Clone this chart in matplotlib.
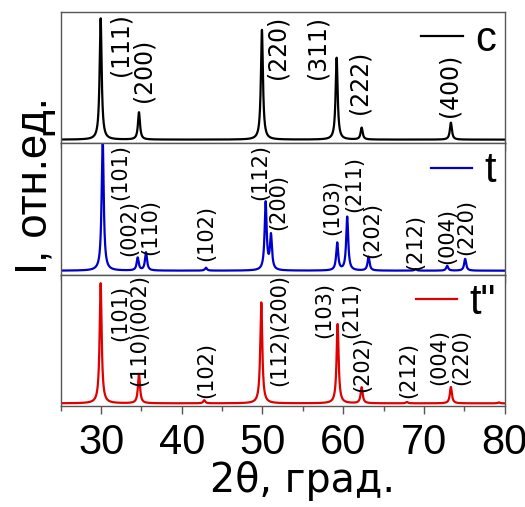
import matplotlib
matplotlib.use("Agg")
import matplotlib.pyplot as plt
import numpy as np

plt.rcParams['font.family'] = ['Liberation Sans', 'DejaVu Sans']

# peak positions (2theta, deg) and heights (relative) for each phase
c_pos = [29.94, 34.69, 49.93, 59.19, 62.29, 73.35]
c_int = [100, 22.5, 90.5, 67.5, 9.8, 14.0]
c_hkl = ['(111)', '(200)', '(220)', '(311)', '(222)', '(400)']
c_lab_x = [32.42, 35.31, 51.91, 56.87, 62.08, 73.23]
c_lab_y = [0.747, 0.556, 0.731, 0.731, 0.465, 0.442]

t_pos = [30.19, 34.53, 35.56, 42.99, 50.39, 51.05, 59.26, 60.50, 63.15, 68.98, 72.89, 75.12]
t_int = [100, 9.5, 13.5, 2.2, 50.5, 25.5, 20.5, 40.0, 10.3, 1.1, 3.6, 8.8]
t_hkl = ['(101)', '(002)', '(110)', '(102)', '(112)', '(200)', '(103)', '(211)',
         '(202)', '(212)', '(004)', '(220)']
t_lab_x = [32.34, 33.5, 36.05, 43.08, 49.78, 51.91, 58.67, 61.33, 63.62, 68.99, 72.92, 75.30]
t_lab_y = [0.781, 0.355, 0.365, 0.320, 0.783, 0.555, 0.517, 0.688, 0.339, 0.250, 0.295, 0.365]

t2_pos = [29.94, 34.69, 42.78, 49.85, 59.31, 62.29, 67.90, 73.35, 79.3]
t2_int = [100, 24.5, 2.6, 84.0, 66.0, 13.3, 1.1, 13.6, 0.8]
t2_hkl = ['(101)', '(110)(002)', '(102)', '(112)(200)', '(103)', '(211)',
          '(202)', '(212)', '(004)', '(220)']
t2_lab_x = [32.34, 34.69, 42.97, 52.04, 57.70, 61.05, 62.35, 68.02, 71.86, 74.68]
t2_lab_y = [0.705, 0.578, 0.274, 0.578, 0.73, 0.73, 0.32, 0.274, 0.375, 0.373]

# y limits per panel (baseline sits a few px above the axis)
ylims = [(-2.9, 105.5), (-2.9, 95.0), (-2.2, 107.2)]
# hkl label size per panel
lab_size = [17, 15, 15]

hwhm = 0.15
tt = np.arange(25, 80.001, 0.01)


def pattern(pos, inten):
    y = np.zeros_like(tt)
    for p, h in zip(pos, inten):
        y += h / (1 + ((tt - p) / hwhm) ** 2)
    return y


fig, axes = plt.subplots(3, 1, sharex=True, figsize=(5.25, 5.07), dpi=100)
fig.subplots_adjust(left=0.1158, right=0.961, top=0.9769, bottom=0.1992, hspace=0)

phases = [
    (c_pos, c_int, c_hkl, c_lab_x, c_lab_y, 'black', 'c'),
    (t_pos, t_int, t_hkl, t_lab_x, t_lab_y, '#0000cc', 't'),
    (t2_pos, t2_int, t2_hkl, t2_lab_x, t2_lab_y, '#e00000', 't"'),
]

for ax, (pos, inten, hkl, lx, ly, col, name), yl, fs in zip(axes, phases, ylims, lab_size):
    ax.plot(tt, pattern(pos, inten), color=col, lw=1.6, label=name)
    ax.set_xlim(25, 80)
    ax.set_ylim(*yl)
    ax.set_yticks([])
    for lab, x, y in zip(hkl, lx, ly):
        ax.text(x, y, lab, rotation=90, ha='center', va='center', fontsize=fs,
                family='DejaVu Sans', transform=ax.get_xaxis_transform())
    for s in ax.spines.values():
        s.set_color('#555555')
        s.set_linewidth(1.0)
    ax.set_xticks([30, 40, 50, 60, 70, 80])
    ax.set_xticks(np.arange(25, 81, 5), minor=True)
    ax.tick_params(axis='x', which='major', direction='out', length=6, width=1,
                   color='#555555', labelsize=30, pad=6)
    ax.tick_params(axis='x', which='minor', direction='out', length=3.5, width=1,
                   color='#555555')
    ax.legend(loc='upper right', frameon=False, fontsize=30, handlelength=1.0,
              handletextpad=0.3, borderaxespad=0.1, borderpad=0.1)

fig.text(303 / 525, 1 - 492 / 507, '2θ, град.', fontsize=28.5, family='DejaVu Sans',
         ha='center', va='baseline')
fig.text(36 / 525, 1 - 186 / 507, 'I, отн.ед.', rotation=90, fontsize=31.5,
         ha='center', va='center')

fig.savefig('out.png', dpi=100)
